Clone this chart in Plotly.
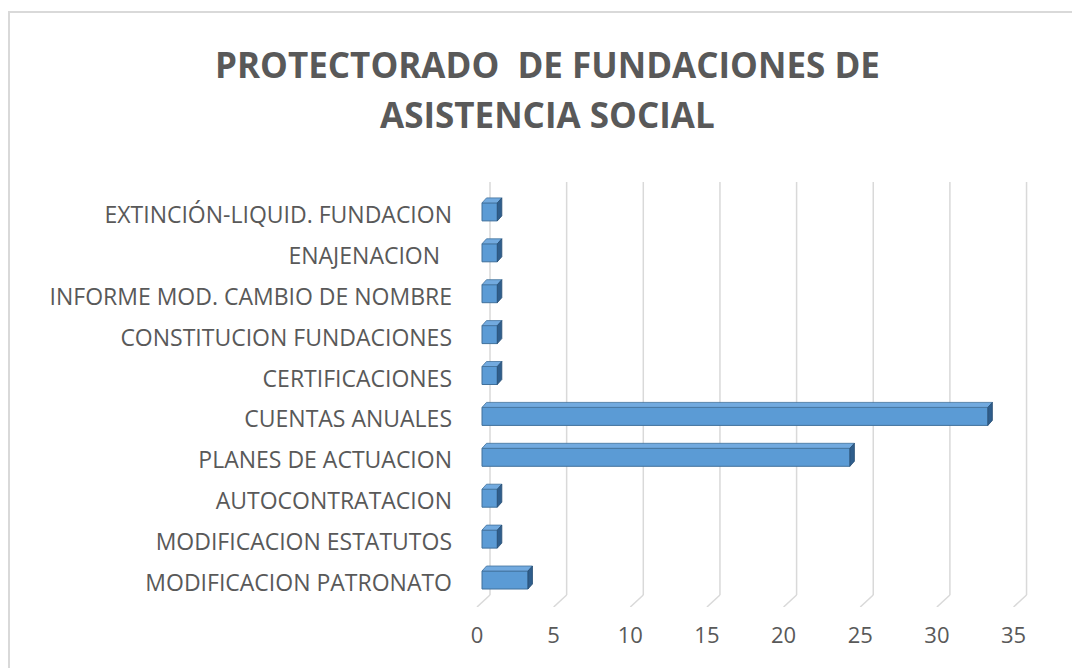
import plotly.graph_objects as go

# --- data -------------------------------------------------------------
categories = [
    "MODIFICACION PATRONATO",
    "MODIFICACION ESTATUTOS",
    "AUTOCONTRATACION",
    "PLANES DE ACTUACION",
    "CUENTAS ANUALES",
    "CERTIFICACIONES",
    "CONSTITUCION FUNDACIONES",
    "INFORME MOD. CAMBIO DE NOMBRE",
    "ENAJENACION\u00a0\u00a0",
    "EXTINCIÓN-LIQUID. FUNDACION",
]
values = [3, 1, 1, 24, 33, 1, 1, 1, 1, 1]
x_ticks = [0, 5, 10, 15, 20, 25, 30, 35]

title_lines = ["PROTECTORADO  DE FUNDACIONES DE", "ASISTENCIA SOCIAL"]

# --- page geometry (pixels) ------------------------------------------
W, H = 1072, 668
PL, PR, PT, PB = 470, 1040, 182, 607      # plot area edges
X0_PX, X_UNIT = 482, 15.33                # pixel of value 0, pixels per unit
Y0_PX, Y_UNIT = 580, 40.9                 # pixel of first category, pixels per category

x_range = [(PL - X0_PX) / X_UNIT, (PR - X0_PX) / X_UNIT]
y_range = [(Y0_PX - PB) / Y_UNIT, (Y0_PX - PT) / Y_UNIT]

# 3D look: bar half height, depth offsets (data units)
half = 0.22
dx = 4.5 / X_UNIT
dy = 5.0 / Y_UNIT
wall_dx = 8.0 / X_UNIT          # back wall sits behind bar front
floor_front_dx = -5.0 / X_UNIT  # floor front edge
floor_back_y = (Y0_PX - 595) / Y_UNIT

FRONT = "#5B9BD5"
TOP = "#72AADF"
SIDE = "#2F5E8C"
EDGE = "#41719C"
GRID = "#D9D9D9"
TEXT = "#595959"

ypos = list(range(len(categories)))

fig = go.Figure()

# front faces
fig.add_trace(go.Bar(
    x=values, y=ypos, orientation="h", width=2 * half,
    marker=dict(color=FRONT, line=dict(color=EDGE, width=1)),
    hoverinfo="x+text", text=categories, textposition="none",
    showlegend=False,
))

# top faces and right-hand faces, built from the values
top_x, top_y, side_x, side_y = [], [], [], []
for i, v in zip(ypos, values):
    top_x += [0, v, v + dx, dx, 0, None]
    top_y += [i + half, i + half, i + half + dy, i + half + dy, i + half, None]
    side_x += [v, v + dx, v + dx, v, v, None]
    side_y += [i - half, i - half + dy, i + half + dy, i + half, i - half, None]

fig.add_trace(go.Scatter(
    x=top_x, y=top_y, mode="lines", fill="toself", fillcolor=TOP,
    line=dict(color=EDGE, width=0.8), hoverinfo="skip", showlegend=False,
))
fig.add_trace(go.Scatter(
    x=side_x, y=side_y, mode="lines", fill="toself", fillcolor=SIDE,
    line=dict(color="#284F75", width=0.8), hoverinfo="skip", showlegend=False,
))

# back-wall gridlines with their floor segments
shapes = []
for t in x_ticks:
    shapes.append(dict(type="line", xref="x", yref="y", layer="below",
                       x0=t + wall_dx, x1=t + wall_dx, y0=floor_back_y, y1=y_range[1],
                       line=dict(color=GRID, width=1.5)))
    shapes.append(dict(type="line", xref="x", yref="y", layer="below",
                       x0=t + wall_dx, x1=t + floor_front_dx, y0=floor_back_y, y1=y_range[0],
                       line=dict(color=GRID, width=1.5)))

# chart frame
pw, ph = PR - PL, PB - PT
shapes.append(dict(type="rect", xref="paper", yref="paper", layer="below",
                   x0=(9 - PL) / pw, x1=(W + 5 - PL) / pw,
                   y0=(PB - (H + 5)) / ph, y1=(PB - 12) / ph,
                   line=dict(color=GRID, width=2), fillcolor="rgba(0,0,0,0)"))

annotations = []
for line_txt, ypx in zip(title_lines, [65, 115]):
    annotations.append(dict(
        text="<b>" + line_txt + "</b>", xref="paper", yref="paper",
        x=(547 - PL) / pw, y=(PB - ypx) / ph, xanchor="center", yanchor="middle",
        showarrow=False, font=dict(family="Open Sans", size=35, color=TEXT),
    ))

fig.update_layout(
    width=W, height=H, autosize=False,
    margin=dict(l=PL, r=W - PR, t=PT, b=H - PB),
    paper_bgcolor="white", plot_bgcolor="white",
    shapes=shapes, annotations=annotations,
    xaxis=dict(range=x_range, tickvals=x_ticks, showgrid=False, zeroline=False,
               showline=False, ticks="", ticklabelstandoff=13, ticklabelshift=-5,
               tickfont=dict(family="Open Sans", size=22, color=TEXT)),
    yaxis=dict(range=y_range, tickvals=ypos, ticktext=categories, showgrid=False,
               zeroline=False, showline=False, ticks="", ticklabelstandoff=17,
               ticklabelshift=3,
               tickfont=dict(family="Open Sans", size=23, color=TEXT)),
)

fig.write_html("out.html")
